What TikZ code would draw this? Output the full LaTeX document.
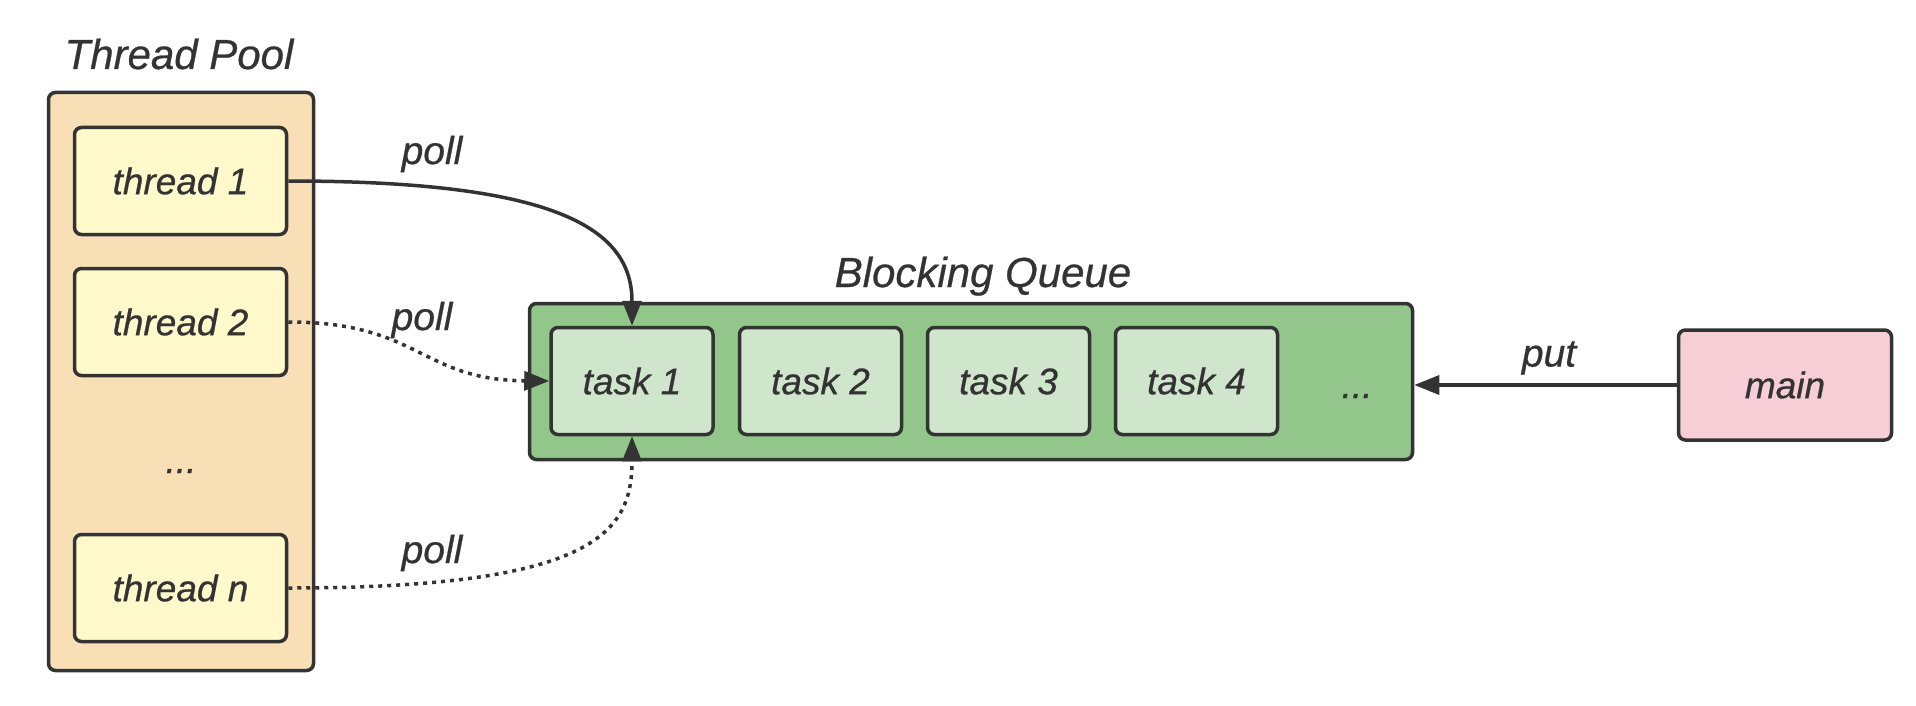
\documentclass[tikz,border=0pt]{standalone}
\usepackage{fontspec}
\setmainfont{Liberation Sans}[ItalicFeatures={FakeBold=0.6}]
\usetikzlibrary{arrows.meta}
\definecolor{ink}{HTML}{333333}
\definecolor{peach}{HTML}{F9DFB5}
\definecolor{paleyellow}{HTML}{FFF9CC}
\definecolor{qgreen}{HTML}{92C68A}
\definecolor{taskgreen}{HTML}{D0E6CC}
\definecolor{pink}{HTML}{F7CED5}
\tikzset{
  box/.style={draw=ink, line width=3.5pt, rounded corners=7pt, inner sep=0pt, text=ink,
    font=\fontsize{37}{44}\selectfont\itshape},
  poolbox/.style={box, fill=peach, minimum width=265pt, minimum height=578pt},
  threadbox/.style={box, fill=paleyellow, minimum width=212pt, minimum height=107pt},
  queuebox/.style={box, fill=qgreen, minimum width=883pt, minimum height=156pt},
  taskbox/.style={box, fill=taskgreen, minimum width=162pt, minimum height=107pt},
  mainbox/.style={box, fill=pink, minimum width=213pt, minimum height=110pt},
  plain/.style={inner sep=0pt, text=ink, font=\fontsize{37}{44}\selectfont\itshape},
  title/.style={inner sep=0pt, text=ink, font=\fontsize{42}{50}\selectfont\itshape},
  lbl/.style={inner sep=0pt, text=ink, font=\fontsize{39}{46}\selectfont\itshape},
  conn/.style={draw=ink, line width=3.5pt, -{Triangle[length=25pt,width=19pt]}},
  dotconn/.style={conn, dash pattern=on 4pt off 5pt}
}
\begin{document}
\begin{tikzpicture}[x=1pt,y=-1pt]
\useasboundingbox (0,0) rectangle (1916,706);
% Thread pool
\node[title, anchor=base] (pooltitle) at (179,69) {Thread Pool};
\node[poolbox] (pool) at (181,381.5) {};
\node[threadbox] (t1) at (180.5,181) {thread 1};
\node[threadbox] (t2) at (180.5,322) {thread 2};
\node[plain, anchor=base] (tdots) at (181,473) {...};
\node[threadbox] (tn) at (180.5,588) {thread n};
% Blocking queue
\node[title, anchor=base] (qtitle) at (983,287) {Blocking Queue};
\node[queuebox] (queue) at (971,381.5) {};
\node[taskbox] (k1) at (632,381) {task 1};
\node[taskbox] (k2) at (820.5,381) {task 2};
\node[taskbox] (k3) at (1008.5,381) {task 3};
\node[taskbox] (k4) at (1196.5,381) {task 4};
\node[plain, anchor=base] (qdots) at (1357,398) {...};
% main
\node[mainbox] (main) at (1785,385) {main};
% connectors
\draw[conn] (t1.east) .. controls (560,181) and (632,230) .. (k1.north);
\draw[dotconn] (t2.east) .. controls (420,322) and (420,380) .. (k1.west);
\draw[dotconn] (tn.east) .. controls (600,588) and (632,530) .. (k1.south);
\draw[conn] (main.west) -- (queue.east |- main.west);
% labels
\node[lbl] (p1) at (432,154) {poll};
\node[lbl] (p2) at (422,320) {poll};
\node[lbl] (p3) at (432,553) {poll};
\node[lbl] (put) at (1549,358) {put};
\end{tikzpicture}
\end{document}
